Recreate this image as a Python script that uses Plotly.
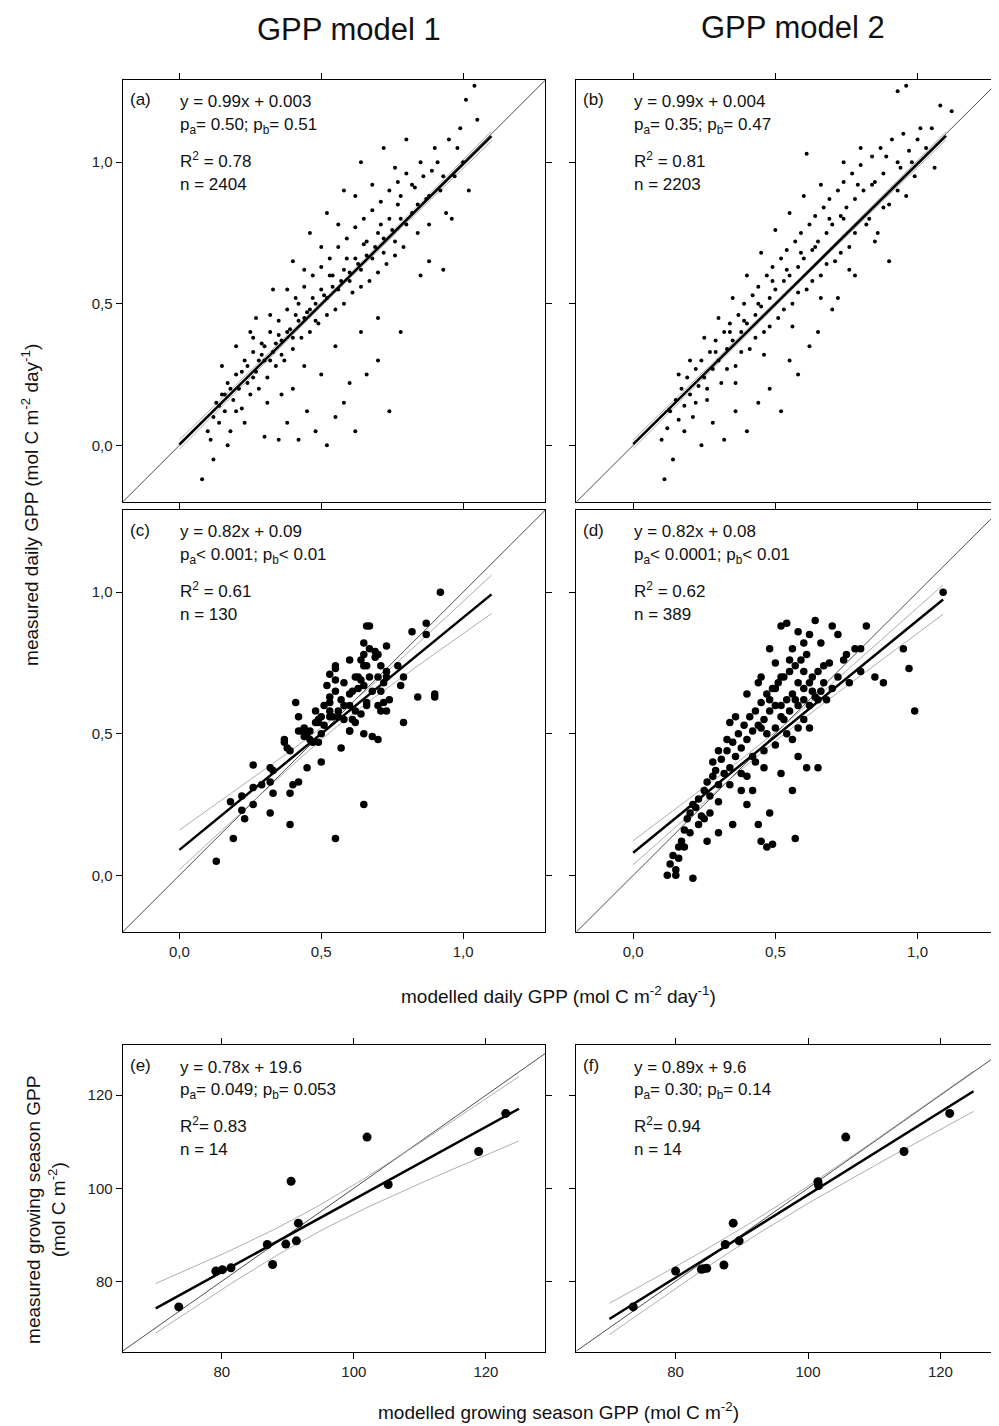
import numpy as np
import plotly.graph_objects as go

W, H = 999, 1426

# ---- data ----
a_pts = [(0.08,-0.12),(0.10,0.05),(0.11,0.02),(0.12,0.10),(0.13,0.15),(0.14,0.08),(0.15,0.18),(0.16,0.12),(0.17,0.22),(0.18,0.05),
         (0.19,0.16),(0.20,0.25),(0.21,0.20),(0.22,0.13),(0.23,0.30),(0.24,0.22),(0.25,0.18),(0.26,0.33),(0.27,0.26),(0.28,0.20),
         (0.29,0.36),(0.30,0.30),(0.31,0.24),(0.32,0.40),(0.33,0.33),(0.34,0.28),(0.35,0.44),(0.36,0.37),(0.37,0.30),(0.38,0.48),
         (0.39,0.41),(0.40,0.34),(0.41,0.52),(0.42,0.44),(0.43,0.38),(0.44,0.56),(0.45,0.47),(0.46,0.40),(0.47,0.60),(0.48,0.50),
         (0.49,0.43),(0.50,0.63),(0.51,0.53),(0.52,0.46),(0.53,0.66),(0.54,0.56),(0.55,0.48),(0.56,0.70),(0.57,0.58),(0.58,0.50),
         (0.59,0.73),(0.60,0.61),(0.61,0.54),(0.62,0.77),(0.63,0.64),(0.64,0.56),(0.65,0.80),(0.66,0.67),(0.67,0.58),(0.68,0.83),
         (0.69,0.70),(0.70,0.61),(0.71,0.86),(0.72,0.73),(0.73,0.64),(0.74,0.90),(0.75,0.76),(0.76,0.67),(0.77,0.93),(0.78,0.80),
         (0.79,0.70),(0.80,0.96),(0.82,0.82),(0.84,0.75),(0.85,1.00),(0.87,0.87),(0.88,0.78),(0.90,1.05),(0.92,0.90),(0.94,0.82),
         (0.95,1.08),(0.97,0.95),(0.99,1.12),(1.00,1.00),(1.01,1.22),(1.02,0.90),(1.05,1.15),(1.04,1.27),(0.93,0.62),(0.85,0.60),
         (0.78,0.40),(0.74,0.12),(0.70,0.30),(0.66,0.25),(0.62,0.05),(0.58,0.15),(0.55,0.10),(0.52,0.00),(0.48,0.05),(0.45,0.12),
         (0.42,0.02),(0.38,0.08),(0.35,0.02),(0.30,0.03),(0.60,0.22),(0.50,0.25),(0.40,0.20),(0.27,0.45),(0.33,0.55),(0.40,0.65),
         (0.46,0.75),(0.52,0.82),(0.58,0.90),(0.64,1.00),(0.72,1.05),(0.80,1.08),(0.20,0.35),(0.15,0.28),(0.25,0.40),(0.44,0.28),
         (0.36,0.18),(0.64,0.40),(0.70,0.45),(0.88,0.65),(0.96,0.80),(0.55,0.35),(0.31,0.15),(0.23,0.08),(0.17,0.00),(0.12,-0.05),
         (0.53,0.60),(0.47,0.52),(0.41,0.46),(0.35,0.39),(0.29,0.32),(0.59,0.66),(0.65,0.71),(0.71,0.78),(0.77,0.85),(0.83,0.91),
         (0.89,0.97),(0.30,0.35),(0.32,0.30),(0.34,0.36),(0.36,0.32),(0.38,0.40),(0.40,0.38),(0.42,0.50),(0.44,0.45),(0.46,0.48),
         (0.48,0.44),(0.50,0.55),(0.52,0.52),(0.54,0.60),(0.56,0.55),(0.58,0.62),(0.60,0.58),(0.62,0.66),(0.64,0.62),(0.66,0.72),
         (0.68,0.66),(0.70,0.75),(0.72,0.68),(0.74,0.80),(0.76,0.72),(0.78,0.88),(0.80,0.78),(0.82,0.92),(0.84,0.85),(0.86,0.95),
         (0.88,0.88),(0.22,0.26),(0.24,0.28),(0.26,0.24),(0.28,0.30),(0.18,0.20),(0.16,0.18),(0.14,0.14),(0.20,0.12),(0.91,1.00),
         (0.93,0.95),(0.98,1.05),(0.76,0.98),(0.68,0.92),(0.62,0.88),(0.56,0.78),(0.50,0.70),(0.44,0.62),(0.38,0.55),(0.32,0.46),
         (0.26,0.38)]

b_pts = [(0.11,-0.12),(0.10,0.02),(0.12,0.06),(0.13,0.12),(0.14,-0.05),(0.15,0.16),(0.16,0.09),(0.17,0.20),(0.18,0.14),(0.19,0.24),
         (0.20,0.18),(0.21,0.10),(0.22,0.27),(0.23,0.21),(0.24,0.30),(0.25,0.24),(0.26,0.16),(0.27,0.33),(0.28,0.27),(0.29,0.37),
         (0.30,0.30),(0.31,0.22),(0.32,0.40),(0.33,0.34),(0.34,0.43),(0.35,0.37),(0.36,0.28),(0.37,0.46),(0.38,0.40),(0.39,0.50),
         (0.40,0.43),(0.41,0.34),(0.42,0.53),(0.43,0.46),(0.44,0.56),(0.45,0.49),(0.46,0.40),(0.47,0.60),(0.48,0.52),(0.49,0.63),
         (0.50,0.55),(0.51,0.45),(0.52,0.66),(0.53,0.58),(0.54,0.69),(0.55,0.60),(0.56,0.50),(0.57,0.72),(0.58,0.63),(0.59,0.75),
         (0.60,0.66),(0.61,0.55),(0.62,0.78),(0.63,0.69),(0.64,0.81),(0.65,0.72),(0.66,0.60),(0.67,0.84),(0.68,0.75),(0.69,0.87),
         (0.70,0.78),(0.71,0.65),(0.72,0.90),(0.73,0.81),(0.74,0.93),(0.75,0.84),(0.76,0.70),(0.77,0.96),(0.78,0.87),(0.80,0.99),
         (0.81,0.90),(0.82,0.78),(0.84,1.02),(0.85,0.93),(0.87,1.05),(0.88,0.96),(0.90,0.85),(0.91,1.08),(0.93,1.00),(0.95,1.10),
         (0.97,1.04),(0.99,0.95),(1.01,1.12),(1.03,1.05),(1.06,0.98),(1.08,1.20),(1.12,1.18),(0.96,1.27),(0.93,1.25),(0.61,1.03),
         (0.85,0.72),(0.90,0.65),(0.72,0.52),(0.65,0.40),(0.58,0.25),(0.52,0.12),(0.48,0.20),(0.44,0.15),(0.40,0.05),(0.36,0.12),
         (0.32,0.02),(0.28,0.08),(0.24,0.00),(0.78,0.60),(0.70,0.48),(0.62,0.35),(0.55,0.30),(0.30,0.45),(0.35,0.52),(0.40,0.60),
         (0.45,0.68),(0.50,0.76),(0.55,0.82),(0.60,0.88),(0.66,0.92),(0.74,1.00),(0.80,1.05),(0.20,0.30),(0.16,0.25),(0.25,0.38),
         (0.33,0.27),(0.43,0.38),(0.53,0.48),(0.63,0.58),(0.73,0.68),(0.83,0.80),(0.93,0.90),(0.38,0.33),(0.48,0.42),(0.58,0.54),
         (0.68,0.64),(0.78,0.75),(0.88,0.84),(0.98,1.00),(0.34,0.40),(0.44,0.50),(0.54,0.62),(0.64,0.70),(0.74,0.80),(0.84,0.92),
         (0.94,0.98),(0.29,0.33),(0.39,0.44),(0.49,0.58),(0.59,0.68),(0.69,0.80),(0.79,0.92),(0.89,1.02),(0.22,0.15),(0.18,0.05),
         (1.00,1.08),(1.05,1.12),(0.96,0.88),(0.86,0.75),(0.76,0.62),(0.66,0.52),(0.56,0.42),(0.46,0.32),(0.36,0.22),(0.26,0.20)]

c_pts = [(0.13,0.05),(0.19,0.13),(0.23,0.20),(0.22,0.23),(0.18,0.26),(0.22,0.28),(0.26,0.25),(0.32,0.22),(0.39,0.18),(0.55,0.13),
         (0.65,0.25),(0.26,0.39),(0.26,0.31),(0.29,0.32),(0.32,0.38),(0.33,0.37),(0.32,0.33),(0.33,0.29),(0.39,0.29),(0.40,0.32),
         (0.42,0.33),(0.45,0.38),(0.50,0.40),(0.49,0.47),(0.38,0.45),(0.37,0.48),(0.37,0.47),(0.39,0.44),(0.42,0.51),(0.43,0.51),
         (0.45,0.50),(0.46,0.48),(0.49,0.54),(0.48,0.54),(0.49,0.55),(0.50,0.56),(0.51,0.53),(0.53,0.56),(0.54,0.56),(0.56,0.58),
         (0.42,0.56),(0.41,0.61),(0.51,0.60),(0.53,0.63),(0.55,0.65),(0.52,0.67),(0.55,0.69),(0.58,0.68),(0.57,0.45),(0.60,0.51),
         (0.61,0.55),(0.62,0.58),(0.60,0.60),(0.63,0.66),(0.60,0.64),(0.61,0.65),(0.62,0.70),(0.63,0.70),(0.64,0.69),(0.65,0.74),
         (0.66,0.74),(0.64,0.76),(0.60,0.76),(0.55,0.74),(0.55,0.73),(0.53,0.71),(0.65,0.78),(0.67,0.80),(0.65,0.82),(0.66,0.88),
         (0.67,0.88),(0.69,0.79),(0.69,0.77),(0.70,0.78),(0.73,0.81),(0.71,0.74),(0.70,0.70),(0.67,0.70),(0.65,0.67),(0.68,0.65),
         (0.71,0.65),(0.72,0.68),(0.73,0.70),(0.73,0.72),(0.74,0.62),(0.72,0.61),(0.71,0.58),(0.73,0.58),(0.70,0.60),(0.66,0.61),
         (0.66,0.60),(0.64,0.57),(0.62,0.54),(0.60,0.51),(0.65,0.50),(0.68,0.49),(0.70,0.48),(0.77,0.74),(0.79,0.70),(0.78,0.67),
         (0.79,0.54),(0.82,0.86),(0.84,0.63),(0.87,0.89),(0.87,0.85),(0.90,0.64),(0.90,0.63),(0.92,1.00),(0.53,0.58),(0.57,0.62),
         (0.58,0.60),(0.48,0.58),(0.44,0.52),(0.44,0.49),(0.46,0.51),(0.47,0.47),(0.50,0.50),(0.53,0.61),(0.56,0.56),(0.58,0.55)]

d_pts = [(0.12,0.00),(0.13,0.04),(0.14,0.07),(0.15,0.02),(0.16,0.10),(0.17,0.12),(0.18,0.16),(0.19,0.20),(0.20,0.22),(0.21,-0.01),
         (0.21,0.25),(0.22,0.24),(0.23,0.27),(0.24,0.21),(0.25,0.30),(0.26,0.33),(0.27,0.28),(0.28,0.35),(0.29,0.37),(0.30,0.32),
         (0.31,0.41),(0.32,0.36),(0.33,0.44),(0.34,0.38),(0.35,0.47),(0.36,0.42),(0.37,0.50),(0.38,0.45),(0.39,0.53),(0.40,0.48),
         (0.41,0.56),(0.42,0.51),(0.43,0.58),(0.44,0.53),(0.45,0.61),(0.46,0.55),(0.47,0.64),(0.48,0.58),(0.49,0.66),(0.50,0.60),
         (0.51,0.68),(0.52,0.56),(0.53,0.70),(0.54,0.62),(0.55,0.72),(0.56,0.64),(0.57,0.74),(0.58,0.60),(0.59,0.76),(0.60,0.66),
         (0.61,0.78),(0.62,0.68),(0.63,0.70),(0.64,0.63),(0.65,0.72),(0.66,0.65),(0.67,0.74),(0.68,0.62),(0.69,0.75),(0.70,0.66),
         (0.72,0.70),(0.74,0.76),(0.76,0.68),(0.78,0.80),(0.80,0.72),(0.82,0.88),(0.95,0.80),(0.99,0.58),(0.97,0.73),(0.88,0.68),
         (0.85,0.70),(1.09,1.00),(0.40,0.25),(0.42,0.30),(0.44,0.18),(0.45,0.12),(0.47,0.10),(0.49,0.11),(0.48,0.22),(0.52,0.36),
         (0.56,0.30),(0.57,0.13),(0.58,0.42),(0.61,0.38),(0.65,0.38),(0.26,0.12),(0.30,0.15),(0.35,0.18),(0.38,0.30),(0.40,0.35),
         (0.43,0.40),(0.46,0.44),(0.48,0.80),(0.52,0.88),(0.54,0.89),(0.58,0.86),(0.60,0.82),(0.64,0.90),(0.70,0.88),(0.72,0.85),
         (0.80,0.80),(0.75,0.78),(0.66,0.82),(0.62,0.85),(0.56,0.80),(0.50,0.75),(0.45,0.70),(0.40,0.64),(0.36,0.56),(0.33,0.48),
         (0.30,0.44),(0.28,0.40),(0.34,0.54),(0.44,0.68),(0.55,0.76),(0.60,0.72),(0.45,0.52),(0.47,0.50),(0.50,0.52),(0.52,0.60),
         (0.53,0.55),(0.55,0.58),(0.57,0.62),(0.58,0.68),(0.60,0.62),(0.62,0.60),(0.63,0.65),(0.65,0.62),(0.67,0.68),(0.48,0.62),
         (0.50,0.66),(0.52,0.70),(0.54,0.50),(0.56,0.48),(0.58,0.52),(0.60,0.55),(0.62,0.52),(0.50,0.46),(0.46,0.38),(0.42,0.42),
         (0.38,0.36),(0.34,0.32),(0.30,0.26),(0.27,0.22),(0.25,0.20),(0.23,0.18),(0.20,0.15),(0.18,0.10),(0.16,0.06),(0.15,0.00)]

e_x = [73.5, 79.1, 80.1, 81.4, 86.9, 87.7, 89.7, 90.5, 91.3, 91.6, 102.0, 105.2, 118.9, 123.0]
e_y = [74.5, 82.2, 82.5, 82.9, 87.9, 83.6, 88.0, 101.5, 88.7, 92.5, 111.0, 100.8, 107.9, 116.1]
f_x = [73.6, 80.0, 83.9, 84.7, 84.2, 87.3, 87.5, 88.7, 89.6, 101.5, 101.6, 105.7, 114.5, 121.4]
f_y = [74.5, 82.2, 82.6, 82.8, 82.7, 83.5, 87.9, 92.5, 88.7, 101.4, 100.6, 111.0, 107.9, 116.1]

# fit lines as printed in each panel: slope, intercept, x start, x end, n
fits = {"a": (0.99, 0.003, 0.0, 1.10, 2404), "b": (0.99, 0.004, 0.0, 1.10, 2203),
        "c": (0.82, 0.09, 0.0, 1.10, 130), "d": (0.82, 0.08, 0.0, 1.09, 389),
        "e": (0.78, 19.6, 70, 125, 14), "f": (0.89, 9.6, 70, 125, 14)}

stats = {
    "a": ["y = 0.99x + 0.003", "p<sub>a</sub>= 0.50; p<sub>b</sub>= 0.51", "R<sup>2</sup> = 0.78", "n = 2404"],
    "b": ["y = 0.99x + 0.004", "p<sub>a</sub>= 0.35; p<sub>b</sub>= 0.47", "R<sup>2</sup> = 0.81", "n = 2203"],
    "c": ["y = 0.82x + 0.09", "p<sub>a</sub>< 0.001; p<sub>b</sub>< 0.01", "R<sup>2</sup> = 0.61", "n = 130"],
    "d": ["y = 0.82x + 0.08", "p<sub>a</sub>< 0.0001; p<sub>b</sub>< 0.01", "R<sup>2</sup> = 0.62", "n = 389"],
    "e": ["y = 0.78x + 19.6", "p<sub>a</sub>= 0.049; p<sub>b</sub>= 0.053", "R<sup>2</sup>= 0.83", "n = 14"],
    "f": ["y = 0.89x + 9.6", "p<sub>a</sub>= 0.30; p<sub>b</sub>= 0.14", "R<sup>2</sup>= 0.94", "n = 14"],
}

data = {
    "a": ([p[0] for p in a_pts], [p[1] for p in a_pts]),
    "b": ([p[0] for p in b_pts], [p[1] for p in b_pts]),
    "c": ([p[0] for p in c_pts], [p[1] for p in c_pts]),
    "d": ([p[0] for p in d_pts], [p[1] for p in d_pts]),
    "e": (e_x, e_y), "f": (f_x, f_y),
}

# page has an 8px body margin; map screen pixels to paper coords
OFF = 8
def px(v):
    return (v - OFF) / W

def py(v):
    return 1 - (v - OFF) / H

# panel boxes in screen pixels (left, right) / (top, bottom)
cols = [(123, 547), (578, 1003)]
rows = [(80, 502), (510, 932), (1045, 1352)]
panels = {"a": (0, 0), "b": (1, 0), "c": (0, 1), "d": (1, 1), "e": (0, 2), "f": (1, 2)}
msize = {"a": 4, "b": 4, "c": 7.5, "d": 7.5, "e": 9, "f": 9}
FONT = "Liberation Sans, Arial, sans-serif"

fig = go.Figure()
ann = []
for i, (key, (ci, ri)) in enumerate(panels.items()):
    n = i + 1
    xa, ya = ("x", "y") if n == 1 else (f"x{n}", f"y{n}")
    xl, xr = cols[ci]
    yt, yb = rows[ri]
    daily = ri < 2
    rng_x = [-0.2, 1.29] if daily else [65, 129]
    rng_y = [-0.2, 1.29] if daily else [64.8, 130.8]

    x, y = np.array(data[key][0]), np.array(data[key][1])
    k, b0, x0, x1, n_tot = fits[key]
    # 1:1 line
    fig.add_trace(go.Scatter(x=rng_x, y=rng_x, mode="lines", xaxis=xa, yaxis=ya,
                             line=dict(color="black", width=0.7), showlegend=False))
    # confidence band of the fit, from the points and the stated n
    xs = np.linspace(x0, x1, 60)
    res = y - (k * x + b0)
    s = np.sqrt(np.sum(res ** 2) / (len(x) - 2))
    hw = 2.0 * s * np.sqrt(1 / n_tot + (xs - x.mean()) ** 2 / (n_tot * np.var(x)))
    for sign in (1, -1):
        fig.add_trace(go.Scatter(x=xs, y=k * xs + b0 + sign * hw, mode="lines", xaxis=xa, yaxis=ya,
                                 line=dict(color="#999999", width=0.8), showlegend=False))
    fig.add_trace(go.Scatter(x=x, y=y, mode="markers", xaxis=xa, yaxis=ya,
                             marker=dict(color="black", size=msize[key]), showlegend=False))
    fig.add_trace(go.Scatter(x=[x0, x1], y=[k * x0 + b0, k * x1 + b0], mode="lines", xaxis=xa, yaxis=ya,
                             line=dict(color="black", width=2.5), showlegend=False))

    ax = dict(domain=[px(xl), min(px(xr), 1)], range=rng_x, showgrid=False, zeroline=False,
              showline=True, linecolor="black", linewidth=1, mirror="ticks", ticks="outside",
              ticklen=6, tickcolor="black", anchor=ya,
              tickfont=dict(family=FONT, size=15, color="#222"),
              showticklabels=(ri > 0))
    ay = dict(domain=[py(yb), py(yt)], range=rng_y, showgrid=False, zeroline=False,
              showline=True, linecolor="black", linewidth=1, mirror="ticks", ticks="outside",
              ticklen=6, tickcolor="black", anchor=xa,
              tickfont=dict(family=FONT, size=15, color="#222"),
              showticklabels=(ci == 0))
    if daily:
        ax.update(tickvals=[0, 0.5, 1.0], tickformat=".1f")
        ay.update(tickvals=[0, 0.5, 1.0], tickformat=".1f")
    else:
        ax.update(tickvals=[80, 100, 120])
        ay.update(tickvals=[80, 100, 120])
    fig.layout[xa.replace("x", "xaxis")] = ax
    fig.layout[ya.replace("y", "yaxis")] = ay

    ann.append(dict(x=px(xl + 5), y=py(yt + 20), text=f"({key})", xanchor="left",
                    font=dict(family=FONT, size=17, color="#111")))
    for line, off in zip(stats[key], (22, 46, 80, 104)):
        ann.append(dict(x=px(xl + 56), y=py(yt + off), text=line, xanchor="left",
                        font=dict(family=FONT, size=17, color="#111")))

ann += [
    dict(x=px(350), y=py(30), text="GPP model 1", font=dict(family=FONT, size=31, color="#111")),
    dict(x=px(795), y=py(27), text="GPP model 2", font=dict(family=FONT, size=31, color="#111")),
    dict(x=px(30), y=py(505), textangle=-90,
         text="measured daily GPP (mol C m<sup>-2</sup> day<sup>-1</sup>)", font=dict(family=FONT, size=19, color="#111")),
    dict(x=px(560), y=py(995),
         text="modelled daily GPP (mol C m<sup>-2</sup> day<sup>-1</sup>)", font=dict(family=FONT, size=19, color="#111")),
    dict(x=px(46), y=py(1210), textangle=-90,
         text="measured growing season GPP<br>(mol C m<sup>-2</sup>)", font=dict(family=FONT, size=19, color="#111")),
    dict(x=px(560), y=py(1411),
         text="modelled growing season GPP (mol C m<sup>-2</sup>)", font=dict(family=FONT, size=19, color="#111")),
]
for a_ in ann:
    a_.setdefault("xanchor", "center")
    a_.update(xref="paper", yref="paper", showarrow=False, yanchor="middle")

fig.update_layout(width=W, height=H, margin=dict(l=0, r=0, t=0, b=0),
                  plot_bgcolor="white", paper_bgcolor="white", separators=",.",
                  annotations=ann)
fig.write_html("out.html")
